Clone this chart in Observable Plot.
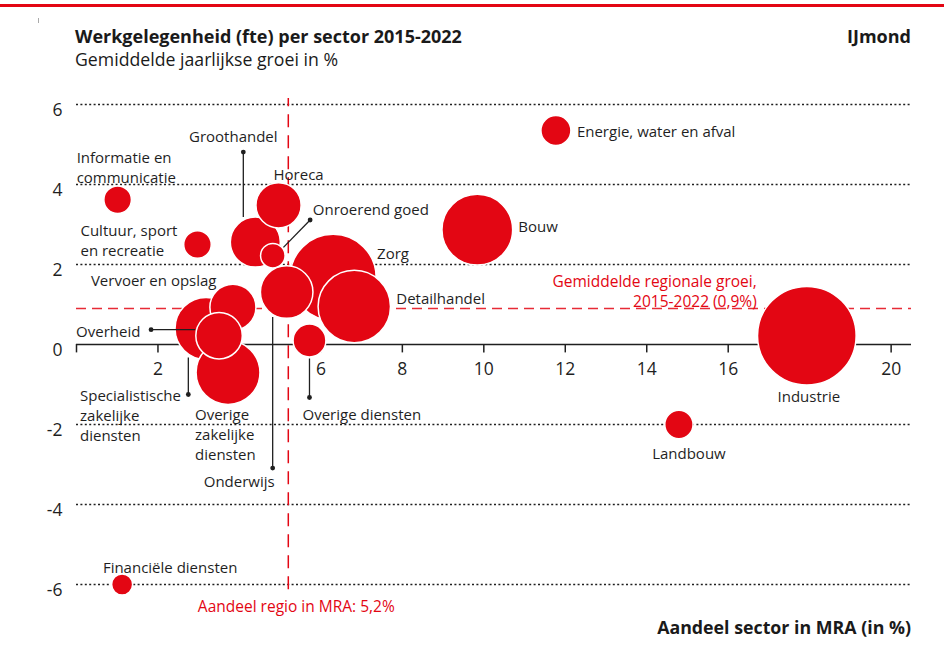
<!DOCTYPE html>
<html><head><meta charset="utf-8">
<script src="https://cdn.jsdelivr.net/npm/d3@7"></script>
<script src="https://cdn.jsdelivr.net/npm/@observablehq/plot@0.6"></script>
<style>
body{margin:0;background:#fff;font-family:"Open Sans",Lato,sans-serif;color:#1a1a1a;}
#wrap{position:relative;width:944px;height:663px;overflow:hidden;background:#fff}
#bar{position:absolute;left:0;top:4px;width:944px;height:3px;background:#e30613}
#mark{position:absolute;left:38px;top:18px;width:1px;height:5px;background:#aaa}
#title{position:absolute;left:75px;top:25px;font-weight:700;font-size:18px;line-height:22px}
#sub{position:absolute;left:75px;top:48px;font-size:17.7px;line-height:22px}
#region{position:absolute;right:33px;top:25px;font-weight:700;font-size:18px;line-height:22px}
#chart{position:absolute;left:0;top:80px}
#xlabel{position:absolute;right:33px;top:616px;font-weight:700;font-size:17.8px;line-height:22px}
</style></head>
<body>
<div id="wrap">
  <div id="bar"></div><div id="mark"></div>
  <div id="title">Werkgelegenheid (fte) per sector 2015-2022</div>
  <div id="sub">Gemiddelde jaarlijkse groei in %</div>
  <div id="region">IJmond</div>
  <div id="chart"></div>
  <div id="xlabel">Aandeel sector in MRA (in %)</div>
</div>
<script>
// ---- data (drawing order: bigger/behind first) ----
const sectors = ["Industrie","Zorg","Detailhandel","Bouw","Specialistische zakelijke diensten","Vervoer en opslag","Overige zakelijke diensten","Overheid","Groothandel","Onroerend goed","Horeca","Onderwijs","Overige diensten","Energie, water en afval","Landbouw","Financiële diensten","Informatie en communicatie","Cultuur, sport en recreatie"];
const labels  = ["Industrie","Zorg","Detailhandel","Bouw","Specialistische\nzakelijke\ndiensten","Vervoer en opslag","Overige\nzakelijke\ndiensten","Overheid","Groothandel","Onroerend goed","Horeca","Onderwijs","Overige diensten","Energie, water en afval","Landbouw","Financiële diensten","Informatie en\ncommunicatie","Cultuur, sport\nen recreatie"];
// share of sector in MRA (%)
const share  = [17.93, 6.30, 6.82, 9.84, 3.18, 3.84, 3.72, 3.50, 4.39, 4.82, 4.96, 5.16, 5.72, 11.77, 14.79, 1.12, 1.01, 2.97];
// average yearly growth (%)
const growth = [0.22, 1.68, 0.95, 2.87, 0.40, 0.93, -0.70, 0.22, 2.56, 2.22, 3.48, 1.31, 0.10, 5.35, -2.00, -6.00, 3.62, 2.50];
// relative employment size (fte, estimated)
const fte    = [24.3, 18.5, 13.1, 12.5, 9.6, 5.3, 10.2, 5.4, 6.25, 1.5, 5.1, 6.9, 2.7, 2.25, 2.0, 1.1, 1.9, 1.9];

const avgGrowth = 0.9;     // Gemiddelde regionale groei
const regionShare = 5.2;   // Aandeel regio in MRA
const xTicks = [0,2,4,6,8,10,12,14,16,18,20];
const xTickLabels = [2,4,6,8,10,12,14,16,18,20];
const yTicks = [6,4,2,0,-2,-4,-6];
const yGrid = [6,4,2,-2,-4,-6];

const data = sectors.map((s,i)=>({sector:s, label:labels[i], share:share[i], growth:growth[i], fte:fte[i]}));

// ---- layout ----
const RED = "#e30613", INK = "#1f1f1f";
const X0 = 0, X1 = 20.5, xr = [76, 911];
const Y0 = -6, Y1 = 6, yr = [504, 24];
const kx = (xr[1]-xr[0])/(X1-X0), ky = (yr[0]-yr[1])/(Y1-Y0);
const LH = 1.33;

// label offsets in px relative to bubble centre
const labelLayout = {
  "Industrie": {dx:2, dy:60, anchor:"middle"},
  "Zorg": {dx:44, dy:-25, anchor:"start"},
  "Detailhandel": {dx:42, dy:-9, anchor:"start"},
  "Bouw": {dx:41, dy:-4, anchor:"start"},
  "Specialistische zakelijke diensten": {dx:-126, dy:86, anchor:"start"},
  "Vervoer en opslag": {dx:-142, dy:-28, anchor:"start"},
  "Overige zakelijke diensten": {dx:-33, dy:61, anchor:"start"},
  "Overheid": {dx:-143, dy:-5, anchor:"start"},
  "Groothandel": {dx:-22, dy:-106, anchor:"middle"},
  "Onroerend goed": {dx:40, dy:-47, anchor:"start"},
  "Horeca": {dx:-5, dy:-32, anchor:"start"},
  "Onderwijs": {dx:-12, dy:189, anchor:"end"},
  "Overige diensten": {dx:-7, dy:73, anchor:"start"},
  "Energie, water en afval": {dx:21, dy:0, anchor:"start"},
  "Landbouw": {dx:10, dy:28, anchor:"middle"},
  "Financiële diensten": {dx:48, dy:-18, anchor:"middle"},
  "Informatie en communicatie": {dx:-41, dy:-33, anchor:"start"},
  "Cultuur, sport en recreatie": {dx:-117, dy:-5, anchor:"start"}
};
// leader lines: px offsets [from, to] relative to bubble centre (dot at "to")
const leaderLayout = {
  "Groothandel": [[-12,-25],[-12,-90]],
  "Onroerend goed": [[10.6,-8.3],[37.3,-35.7]],
  "Onderwijs": [[-14,25],[-14,176]],
  "Overheid": [[-24,-6],[-68,-6]],
  "Specialistische zakelijke diensten": [[-17.7,29],[-17.7,66]],
  "Overige diensten": [[0,18],[0,57]]
};
const leaders = data.filter(d=>leaderLayout[d.sector]).map(d=>{
  const [[a,b],[c,e]] = leaderLayout[d.sector];
  return {x1:d.share + a/kx, y1:d.growth - b/ky, x2:d.share + c/kx, y2:d.growth - e/ky};
});

const marks = [
  Plot.ruleY(yGrid, {x1:X0, x2:X1, stroke:INK, strokeWidth:1.3, strokeDasharray:"2,2.4"}),
  Plot.ruleY([avgGrowth], {x1:X0, x2:X1, stroke:RED, strokeWidth:1.4, strokeDasharray:"10,6", strokeOpacity:0.85}),
  Plot.ruleX([regionShare], {y1:-6.13, y2:6.15, stroke:RED, strokeWidth:1.5, strokeDasharray:"13,8"}),
  Plot.ruleY([0], {x1:X0, x2:X1, stroke:INK, strokeWidth:1.5}),
  Plot.ruleX(xTicks, {x:d=>d, y1:0, y2:-0.21, stroke:INK, strokeWidth:1.5}),
  Plot.text(xTickLabels, {x:d=>d, y:0, dy:25, text:d=>String(d), fontSize:17.5, fill:INK}),
  Plot.text(yTicks, {x:X0, y:d=>d, dx:-14, dy:6, textAnchor:"end", text:d=>String(d), fontSize:17.5, fill:INK}),
  Plot.dot(data, {x:"share", y:"growth", r:"fte", fill:RED, stroke:"white", strokeWidth:1.5, sort:null}),
  Plot.link(leaders, {x1:"x1", y1:"y1", x2:"x2", y2:"y2", stroke:INK, strokeWidth:1.3}),
  Plot.dot(leaders, {x:"x2", y:"y2", r:2.4, fill:INK}),
  ...data.map(d=>{
    const L = labelLayout[d.sector];
    return Plot.text([d], {x:"share", y:"growth", text:"label", dx:L.dx, dy:L.dy, textAnchor:L.anchor, lineHeight:LH, fontSize:15, fill:INK});
  }),
  Plot.text(["Gemiddelde regionale groei,\n2015-2022 (0,9%)"], {x:16.7, y:avgGrowth, dy:-18, textAnchor:"end", lineHeight:LH, fontSize:15.5, fill:RED}),
  Plot.text(["Aandeel regio in MRA: 5,2%"], {x:regionShare, y:Y0, dx:8, dy:22.5, textAnchor:"middle", fontSize:15.5, fill:RED})
];

const chart = Plot.plot({
  width: 944, height: 535,
  marginLeft: 0, marginRight: 0, marginTop: 0, marginBottom: 0,
  x: {domain:[X0, X1], range:xr, axis:null},
  y: {domain:[Y0, Y1], range:yr, axis:null},
  r: {type:"sqrt", domain:[0, 24.3], range:[0, 49.3]},
  style: {fontFamily:"'Open Sans', Lato, sans-serif", fontSize:"15px", color:INK, background:"transparent", overflow:"visible"},
  marks
});
document.getElementById("chart").appendChild(chart);
</script>
</body></html>
